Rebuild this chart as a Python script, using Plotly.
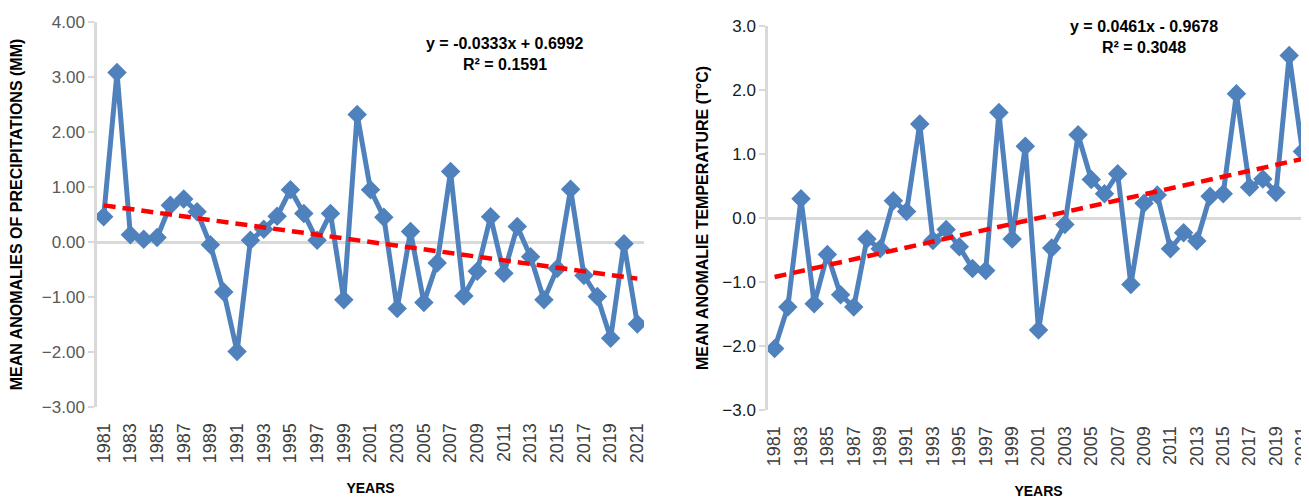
import plotly.graph_objects as go

# ---------------- data ----------------
years = list(range(1981, 2022))

precip_anom = [0.46, 3.08, 0.13, 0.05, 0.08, 0.67, 0.78, 0.55, -0.05, -0.91,
               -1.99, 0.03, 0.23, 0.47, 0.95, 0.52, 0.03, 0.52, -1.05, 2.32,
               0.95, 0.45, -1.21, 0.19, -1.10, -0.38, 1.28, -0.98, -0.53, 0.46,
               -0.57, 0.28, -0.27, -1.05, -0.48, 0.96, -0.61, -0.99, -1.75, -0.03,
               -1.49]

temp_anom = [-2.04, -1.39, 0.30, -1.34, -0.57, -1.20, -1.39, -0.33, -0.48, 0.27,
             0.10, 1.47, -0.35, -0.18, -0.45, -0.79, -0.82, 1.65, -0.33, 1.12,
             -1.75, -0.47, -0.10, 1.30, 0.60, 0.38, 0.69, -1.04, 0.23, 0.36,
             -0.48, -0.23, -0.36, 0.34, 0.38, 1.94, 0.48, 0.61, 0.40, 2.54,
             1.04]

precip_slope, precip_intercept, precip_r2 = -0.0333, 0.6992, 0.1591
temp_slope, temp_intercept, temp_r2 = 0.0461, -0.9678, 0.3048

odd_years = years[::2]
precip_ticks = [-3, -2, -1, 0, 1, 2, 3, 4]
temp_ticks = [-3, -2, -1, 0, 1, 2, 3]

# ---------------- figure ----------------
BLUE = "#4f81bd"
RED = "#ff0000"
GRID = "#d9d9d9"
FONT = "Liberation Sans, Arial, sans-serif"

idx = list(range(1, len(years) + 1))
precip_trend = [precip_slope * i + precip_intercept for i in idx]
temp_trend = [temp_slope * i + temp_intercept for i in idx]

fig = go.Figure()

fig.add_trace(go.Scatter(
    x=years, y=precip_anom, mode="lines+markers", xaxis="x", yaxis="y",
    line=dict(color=BLUE, width=5),
    marker=dict(symbol="diamond", size=15, color=BLUE),
    name="Precipitation anomaly"))
fig.add_trace(go.Scatter(
    x=years, y=precip_trend, mode="lines", xaxis="x", yaxis="y",
    line=dict(color=RED, width=4.5, dash="12px,7px"),
    name="Linear (precipitation)"))

fig.add_trace(go.Scatter(
    x=years, y=temp_anom, mode="lines+markers", xaxis="x2", yaxis="y2",
    line=dict(color=BLUE, width=5),
    marker=dict(symbol="diamond", size=15, color=BLUE),
    name="Temperature anomaly"))
fig.add_trace(go.Scatter(
    x=years, y=temp_trend, mode="lines", xaxis="x2", yaxis="y2",
    line=dict(color=RED, width=4.5, dash="12px,7px"),
    name="Linear (temperature)"))

# page body has an 8px margin: figure is drawn 8px right/down of the window edge
OFF = 8.0
W = 1309.0 - OFF
H = 499.0 - OFF


def px(x):
    return (x - OFF) / W


def py(y):
    return 1 - (y - OFF) / H


xcommon = dict(
    range=[1980.5, 2021.5], tickmode="array", tickvals=odd_years,
    ticktext=[str(y) for y in odd_years], tickangle=-90,
    ticks="outside", ticklen=8, tickcolor="rgba(0,0,0,0)",
    ticklabeloverflow="allow",
    showgrid=False, zeroline=False, showline=False, automargin=False,
    tickfont=dict(family=FONT, size=18, color="#404040"),
)

title_font = dict(family=FONT, size=16, color="black", weight="bold")

fig.update_layout(
    width=int(W), height=int(H),
    margin=dict(l=0, r=0, t=0, b=0),
    paper_bgcolor="white", plot_bgcolor="white",
    showlegend=False,
    font=dict(family=FONT),
    xaxis=dict(domain=[px(97), px(644)], anchor="y",
               title=dict(text="YEARS", standoff=20,
                          font=dict(family=FONT, size=14, color="black", weight="bold")),
               **xcommon),
    yaxis=dict(domain=[py(407), py(22)], anchor="x",
               range=[-3, 4], tickmode="array", tickvals=precip_ticks,
               tickformat=".2f", ticks="outside", ticklen=6, tickwidth=2,
               tickcolor=GRID, showline=True, linecolor=GRID, linewidth=2.5,
               showgrid=False, zeroline=True, zerolinecolor=GRID, zerolinewidth=2.5,
               automargin=False,
               tickfont=dict(family=FONT, size=17, color="#595959"),
               title=dict(text="MEAN ANOMALIES OF PRECIPITATIONS (MM)", standoff=16,
                          font=title_font)),
    xaxis2=dict(domain=[px(768), 1.0], anchor="y2",
                title=dict(text="YEARS", standoff=20,
                           font=dict(family=FONT, size=14, color="black", weight="bold")),
                **xcommon),
    yaxis2=dict(domain=[py(410), py(26)], anchor="x2",
                range=[-3, 3], tickmode="array", tickvals=temp_ticks,
                tickformat=".1f", ticks="outside", ticklen=6, tickwidth=2,
                tickcolor=GRID, showline=True, linecolor=GRID, linewidth=2.5,
                showgrid=False, zeroline=True, zerolinecolor=GRID, zerolinewidth=2.5,
                automargin=False,
                tickfont=dict(family=FONT, size=17, color="#1a1a1a"),
                title=dict(text="MEAN ANOMALIE TEMPERATURE (T°C)", standoff=10,
                           font=title_font)),
)

ann_font = dict(family=FONT, size=16, color="black", weight="bold")
fig.add_annotation(x=px(505), y=py(43), xref="paper", yref="paper",
                   text=f"y = {precip_slope:.4f}x + {precip_intercept:.4f}",
                   showarrow=False, font=ann_font, xanchor="center", yanchor="middle")
fig.add_annotation(x=px(505), y=py(65), xref="paper", yref="paper",
                   text=f"R² = {precip_r2:.4f}",
                   showarrow=False, font=ann_font, xanchor="center", yanchor="middle")
fig.add_annotation(x=px(1144), y=py(26), xref="paper", yref="paper",
                   text=f"y = {temp_slope:.4f}x - {abs(temp_intercept):.4f}",
                   showarrow=False, font=ann_font, xanchor="center", yanchor="middle")
fig.add_annotation(x=px(1144), y=py(48), xref="paper", yref="paper",
                   text=f"R² = {temp_r2:.4f}",
                   showarrow=False, font=ann_font, xanchor="center", yanchor="middle")

fig.write_html("out.html")
